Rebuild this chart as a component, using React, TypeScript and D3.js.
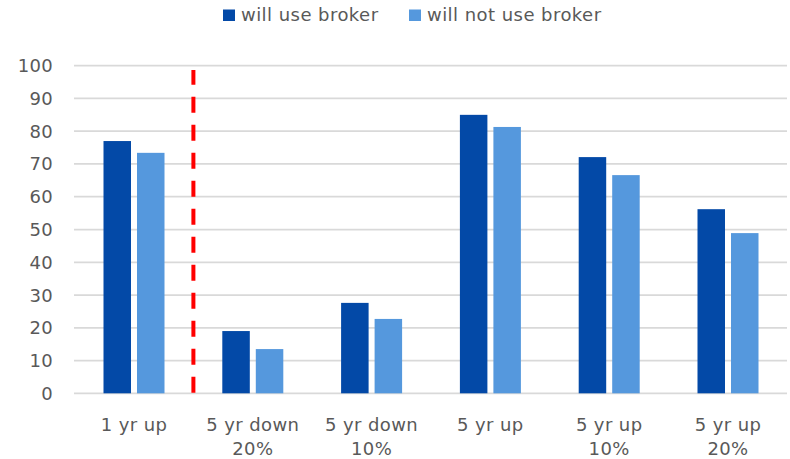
import React from "react";
import * as d3 from "d3";

const categories: string[][] = [
  ["1 yr up"],
  ["5 yr down", "20%"],
  ["5 yr down", "10%"],
  ["5 yr up"],
  ["5 yr up", "10%"],
  ["5 yr up", "20%"],
];
const seriesNames = ["will use broker", "will not use broker"];
const willUse = [77, 19, 27.6, 85, 72.1, 56.2];
const willNotUse = [73.4, 13.5, 22.7, 81.3, 66.6, 48.9];
const yTicks = [0, 10, 20, 30, 40, 50, 60, 70, 80, 90, 100];
const dividerTop = 98.7;

const W = 790;
const H = 459;
const COLORS = ["#0349A7", "#5598DD"];
const TEXT = "#595959";
const FONT = "'DejaVu Sans', sans-serif";

export default function App() {
  const catKeys = categories.map((c) => c.join(" "));
  const x = d3.scaleBand<string>().domain(catKeys).range([74.6, 787.4]).padding(0);
  const xs = d3
    .scaleBand<string>()
    .domain(seriesNames)
    .range([28.9, 89.9])
    .paddingInner(6 / 33.5);
  const y = d3.scaleLinear().domain([0, 100]).range([393.3, 65.7]);
  const series = [willUse, willNotUse];
  const divX = (x(catKeys[0]) as number) + x.step();

  return (
    <svg
      width={W}
      height={H}
      style={{ position: "absolute", left: 0, top: 0, background: "#fff" }}
      fontFamily={FONT}
    >
      {/* gridlines */}
      {yTicks.map((t) => (
        <line
          key={"g" + t}
          x1={74}
          x2={787}
          y1={y(t)}
          y2={y(t)}
          stroke="#D9D9D9"
          strokeWidth={1.75}
        />
      ))}
      {/* y labels */}
      {yTicks.map((t) => (
        <text
          key={"yl" + t}
          x={53}
          y={y(t)}
          textAnchor="end"
          dominantBaseline="central"
          fontSize={18}
          letterSpacing={0.3}
          fill={TEXT}
        >
          {t}
        </text>
      ))}
      {/* bars */}
      {series.map((vals, si) =>
        vals.map((v, i) => (
          <rect
            key={"b" + si + "-" + i}
            x={(x(catKeys[i]) as number) + (xs(seriesNames[si]) as number)}
            y={y(v)}
            width={xs.bandwidth()}
            height={y(0) - y(v)}
            fill={COLORS[si]}
          />
        ))
      )}
      {/* divider */}
      <line
        x1={divX}
        x2={divX}
        y1={y(0) - 0.6}
        y2={y(dividerTop)}
        stroke="#FF0000"
        strokeWidth={4}
        strokeDasharray="16 12"
      />
      {/* x labels */}
      {categories.map((lines, i) => {
        const cx = (x(catKeys[i]) as number) + x.bandwidth() / 2;
        return (
          <text key={"xl" + i} textAnchor="middle" fontSize={18} letterSpacing={0.4} fill={TEXT}>
            {lines.map((l, j) => (
              <tspan key={j} x={cx} y={431 + j * 23.5}>
                {l}
              </tspan>
            ))}
          </text>
        );
      })}
      {/* legend */}
      {seriesNames.map((s, i) => {
        const lx = [223, 409][i];
        return (
          <g key={"lg" + i}>
            <rect x={lx} y={9.5} width={12} height={11.5} fill={COLORS[i]} />
            <text x={lx + 18} y={21} fontSize={18} letterSpacing={0.45} fill={TEXT}>
              {s}
            </text>
          </g>
        );
      })}
    </svg>
  );
}
